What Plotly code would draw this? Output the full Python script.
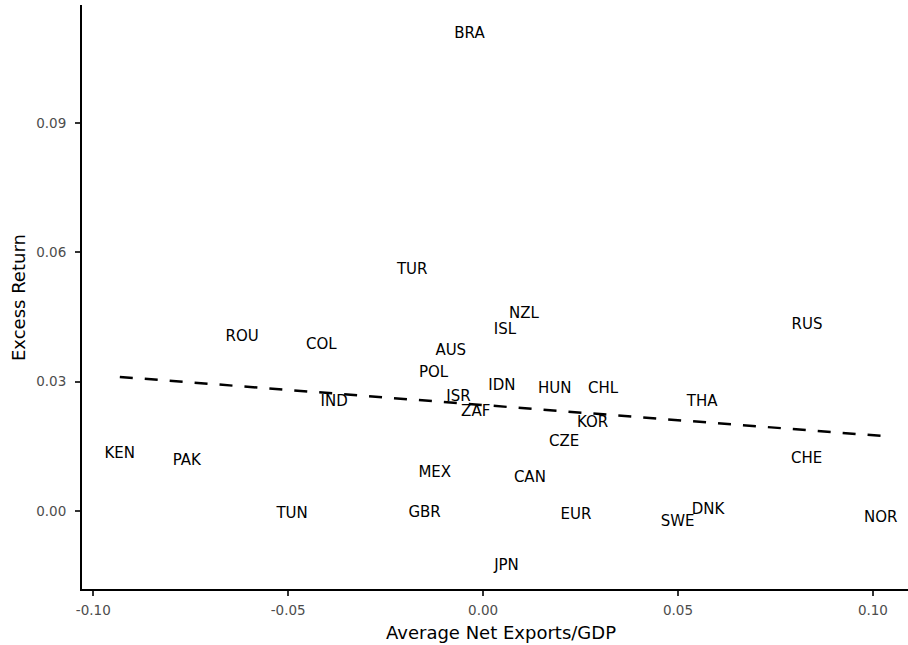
import plotly.graph_objects as go

# Country codes and their (net exports / GDP, excess return) pairs
countries = ["BRA", "TUR", "NZL", "ISL", "RUS", "ROU", "COL", "AUS", "POL", "IDN",
             "HUN", "CHL", "ISR", "IND", "THA", "ZAF", "KOR", "CZE", "KEN", "CHE",
             "PAK", "MEX", "CAN", "DNK", "TUN", "GBR", "EUR", "NOR", "SWE", "JPN"]
net_exports = [-0.0035, -0.0182, 0.0105, 0.0056, 0.0831, -0.0618, -0.0415, -0.0083, -0.0127, 0.0048,
               0.0184, 0.0308, -0.0063, -0.0382, 0.0562, -0.0019, 0.0281, 0.0208, -0.0932, 0.0830,
               -0.0760, -0.0124, 0.0120, 0.0577, -0.0490, -0.0150, 0.0238, 0.1020, 0.0499, 0.0060]
excess_return = [0.1105, 0.0559, 0.0456, 0.0420, 0.0430, 0.0402, 0.0385, 0.0370, 0.0320, 0.0289,
                 0.0282, 0.0282, 0.0264, 0.0252, 0.0252, 0.0228, 0.0204, 0.0160, 0.0132, 0.0120,
                 0.0115, 0.0088, 0.0076, 0.0001, -0.0008, -0.0005, -0.0009, -0.0016, -0.0026, -0.0129]

# Linear fit shown as a dashed line
fit_intercept = 0.02458
fit_slope = -0.0701

x_ticks = [-0.10, -0.05, 0.00, 0.05, 0.10]
x_tick_text = ["-0.10", "-0.05", "0.00", "0.05", "0.10"]
y_ticks = [0.00, 0.03, 0.06, 0.09]
y_tick_text = ["0.00", "0.03", "0.06", "0.09"]

FONT = "DejaVu Sans"
W, H = 908, 645
ML, MR, MT, MB = 82, 0, 5, 56

fit_x = [min(net_exports), max(net_exports)]
fit_y = [fit_intercept + fit_slope * v for v in fit_x]

fig = go.Figure()
fig.add_trace(go.Scatter(
    x=net_exports, y=excess_return, mode="text", text=countries,
    textposition="middle center",
    textfont=dict(family=FONT, size=15, color="#000000"),
    hoverinfo="text", showlegend=False,
))
fig.add_trace(go.Scatter(
    x=fit_x, y=fit_y, mode="lines",
    line=dict(color="#000000", width=2.5, dash="13px,12px"),
    hoverinfo="skip", showlegend=False,
))

axis_common = dict(
    showgrid=False, zeroline=False,
    showline=True, linecolor="#000000", linewidth=2,
    ticks="outside", ticklen=5, tickwidth=2, tickcolor="#333333",
    tickfont=dict(family=FONT, size=13.5, color="#4D4D4D"),
)
fig.update_xaxes(range=[-0.1029, 0.109], tickvals=x_ticks, ticktext=x_tick_text,
                 ticklabelstandoff=3, **axis_common)
fig.update_yaxes(range=[-0.0181, 0.1174], tickvals=y_ticks, ticktext=y_tick_text,
                 ticklabelstandoff=6, **axis_common)

pw = W - ML - MR
ph = H - MT - MB
fig.add_annotation(
    text="Average Net Exports/GDP", xref="paper", yref="paper",
    x=(500.5 - ML) / pw, y=-(632 - (H - MB)) / ph,
    xanchor="center", yanchor="middle", showarrow=False,
    font=dict(family=FONT, size=18, color="#000000"),
)
fig.add_annotation(
    text="Excess Return", xref="paper", yref="paper",
    x=-(ML - 18) / pw, y=((H - MB) - 298) / ph,
    xanchor="center", yanchor="middle", textangle=-90, showarrow=False,
    font=dict(family=FONT, size=18, color="#000000"),
)

fig.update_layout(
    width=W, height=H,
    margin=dict(l=ML, r=MR, t=MT, b=MB),
    paper_bgcolor="#FFFFFF", plot_bgcolor="#FFFFFF",
    font=dict(family=FONT),
)

fig.write_html("out.html")
